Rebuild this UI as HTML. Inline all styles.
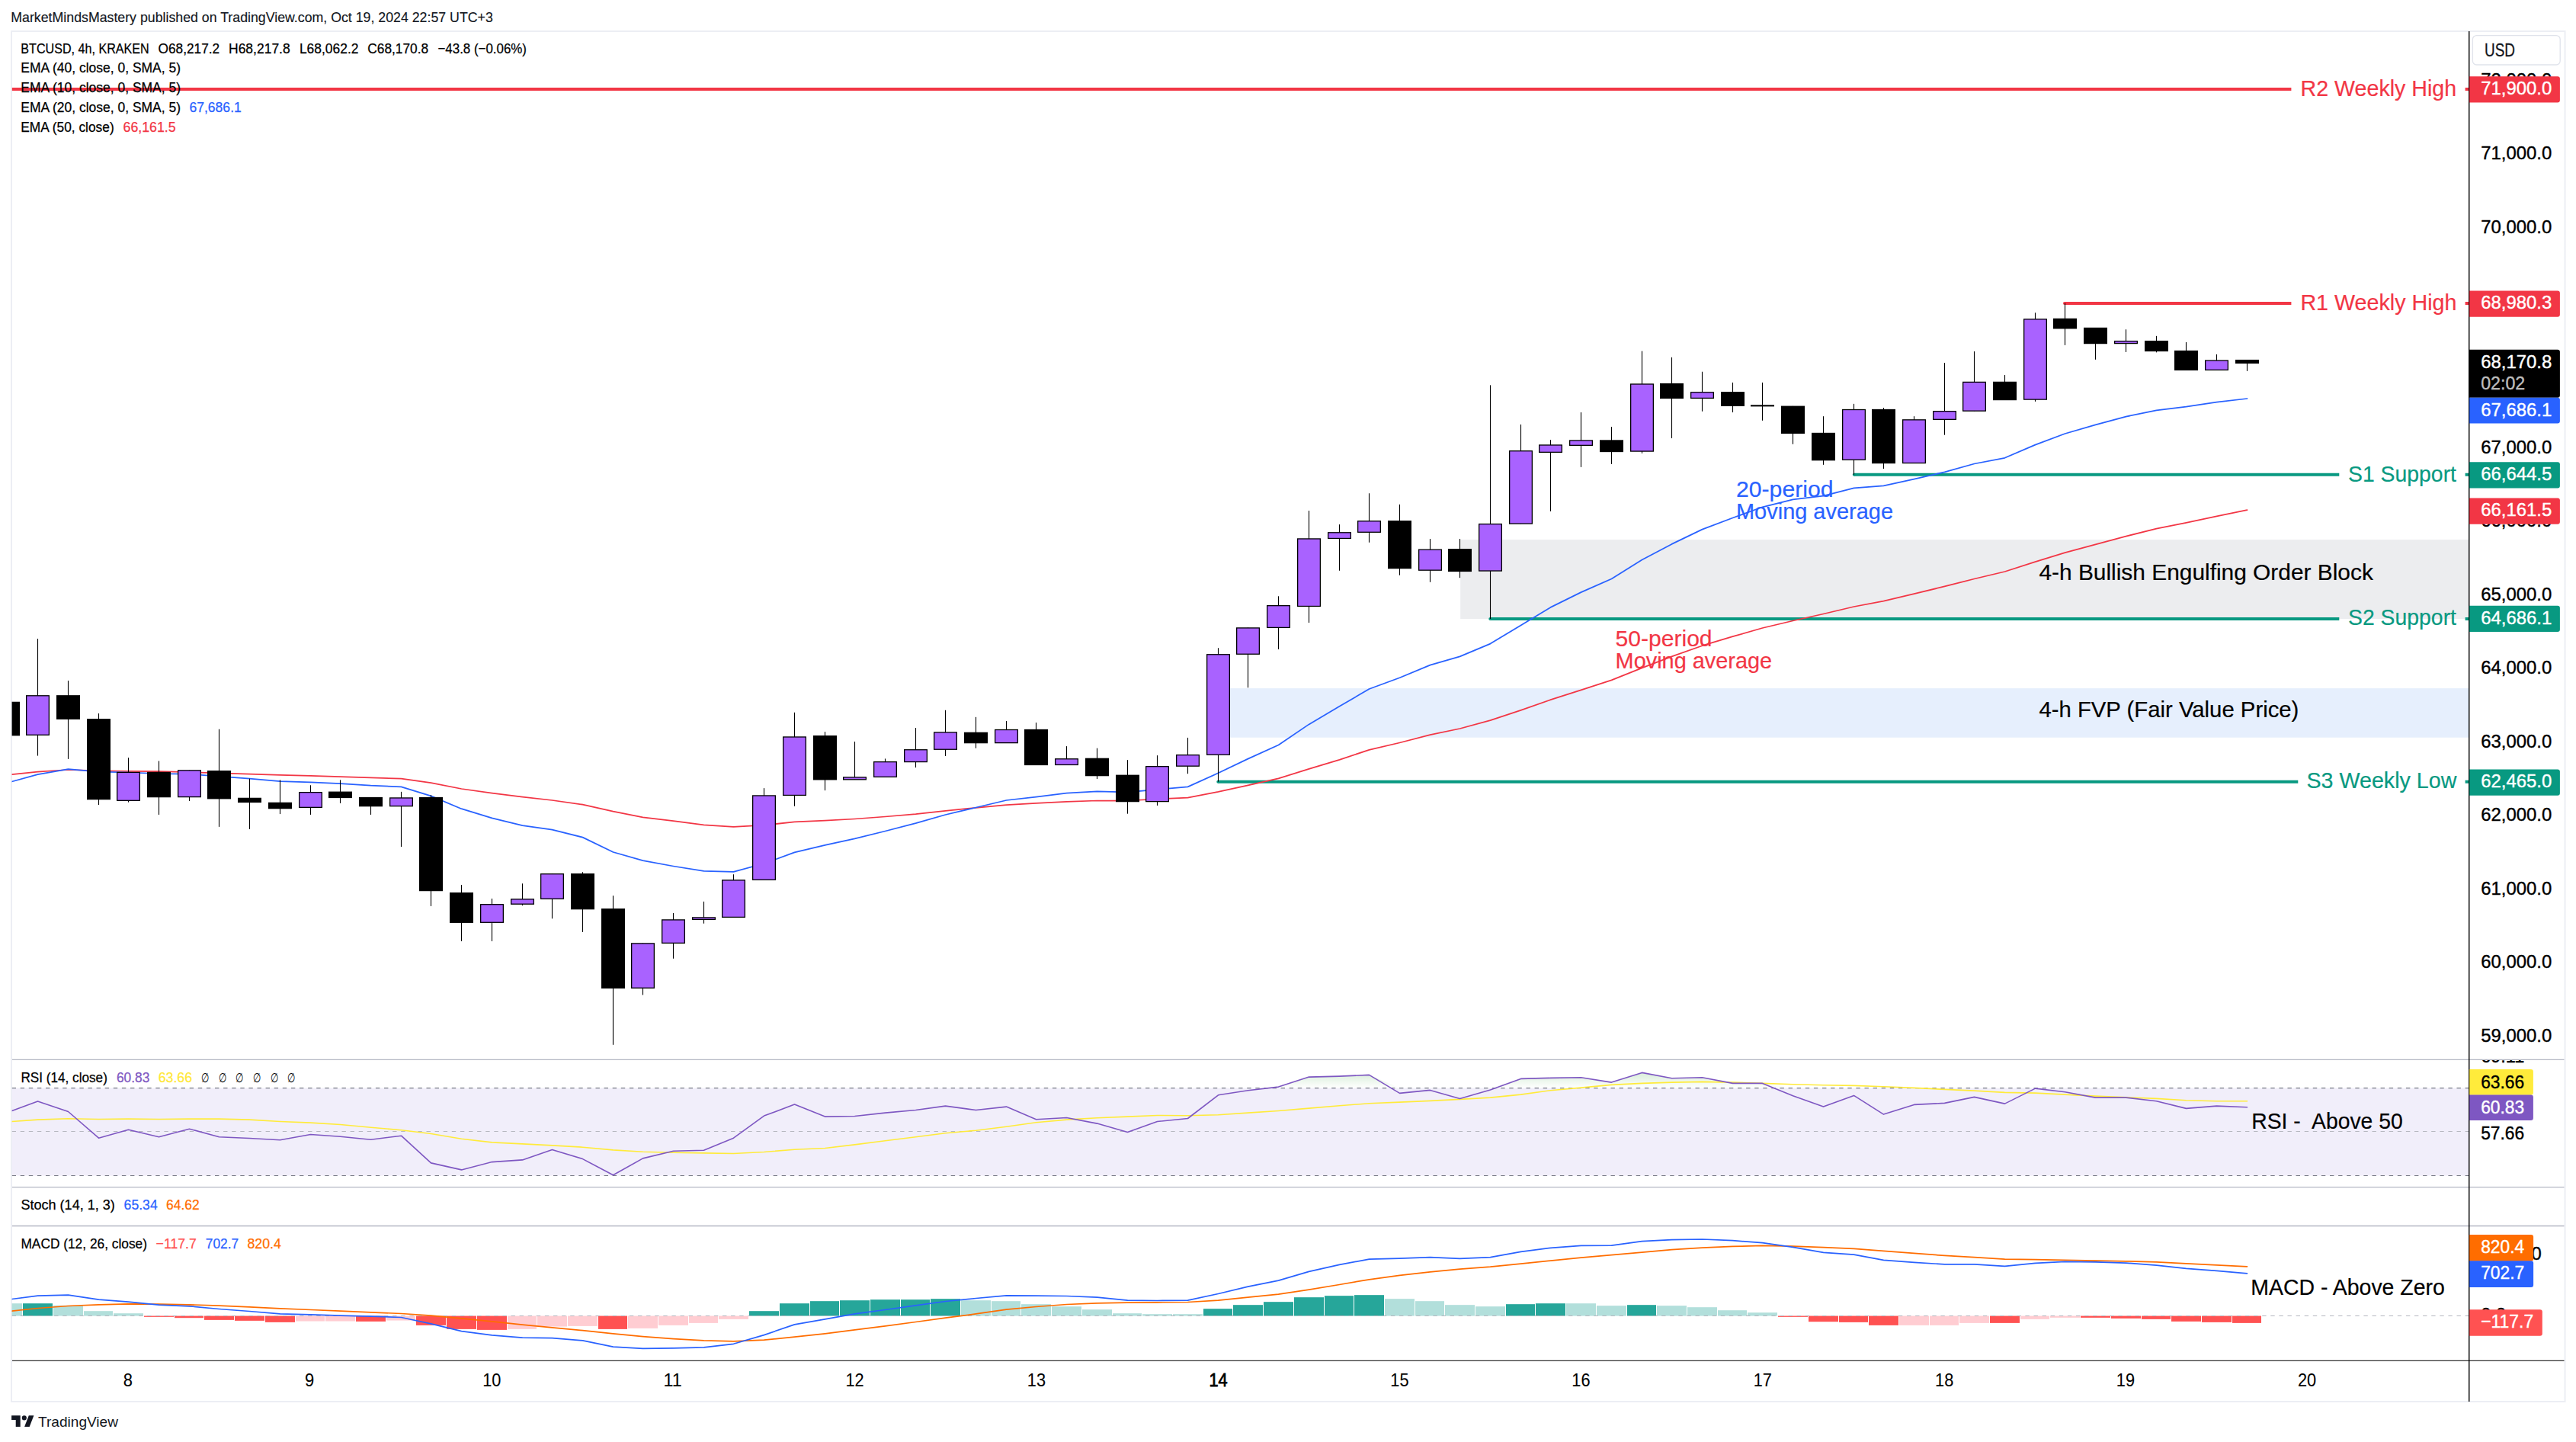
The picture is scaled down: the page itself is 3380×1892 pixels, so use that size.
<!DOCTYPE html>
<html><head><meta charset="utf-8"><title>BTCUSD chart</title>
<style>html,body{margin:0;padding:0;background:#fff}svg{display:block}</style></head>
<body>
<svg width="3380" height="1892" viewBox="0 0 3380 1892" font-family='"Liberation Sans", sans-serif'>
<defs>
<clipPath id="plot"><rect x="15.6" y="41.0" width="3224.1" height="1744.3"/></clipPath>
<clipPath id="rsiax"><rect x="3239.7" y="1391.0" width="130" height="200"/></clipPath>
<linearGradient id="gg" x1="0" y1="0" x2="0" y2="1"><stop offset="0" stop-color="#4caf50" stop-opacity="0.22"/><stop offset="1" stop-color="#4caf50" stop-opacity="0.0"/></linearGradient>
</defs>
<rect x="0.00" y="0.00" width="3380.00" height="1892.00" fill="#ffffff"/>
<text x="14.3" y="28.7" font-size="18.2" fill="#131722" textLength="632.5" lengthAdjust="spacingAndGlyphs" stroke="#131722" stroke-width="0.15">MarketMindsMastery published on TradingView.com, Oct 19, 2024 22:57 UTC+3</text>
<rect x="15.0" y="41.0" width="3350.5" height="1798.0" fill="#fff" stroke="#eceef4" stroke-width="2"/>
<g clip-path="url(#plot)">
<rect x="1916.20" y="708.10" width="1323.50" height="103.90" fill="#ecedef"/>
<rect x="1614.00" y="903.10" width="1625.70" height="64.60" fill="#e6effd"/>
<rect x="15.60" y="1427.60" width="3224.10" height="114.90" fill="#f1eefa"/>
<polygon points="15.6,1427.6 15.6,1427.6 49.5,1427.6 89.5,1427.6 129.5,1427.6 168.5,1427.6 208.5,1427.6 248.5,1427.6 287.5,1427.6 327.5,1427.6 367.5,1427.6 407.5,1427.6 446.5,1427.6 486.5,1427.6 526.5,1427.6 565.5,1427.6 605.5,1427.6 645.5,1427.6 685.5,1427.6 724.5,1427.6 764.5,1427.6 804.5,1427.6 843.5,1427.6 883.5,1427.6 923.5,1427.6 962.5,1427.6 1002.5,1427.6 1042.5,1427.6 1082.5,1427.6 1121.5,1427.6 1161.5,1427.6 1201.5,1427.6 1240.5,1427.6 1280.5,1427.6 1320.5,1427.6 1359.5,1427.6 1399.5,1427.6 1439.5,1427.6 1479.5,1427.6 1518.5,1427.6 1558.5,1427.6 1598.5,1427.6 1637.5,1427.6 1677.5,1426.1 1717.5,1413.1 1757.5,1412.1 1796.5,1410.4 1836.5,1427.6 1876.5,1427.6 1915.5,1427.6 1955.5,1427.6 1995.5,1415.4 2034.5,1414.4 2074.5,1413.7 2114.5,1420.1 2154.5,1407.4 2193.5,1414.7 2233.5,1413.7 2273.5,1421.4 2312.5,1421.4 2352.5,1427.6 2392.5,1427.6 2432.5,1427.6 2471.5,1427.6 2511.5,1427.6 2551.5,1427.6 2590.5,1427.6 2630.5,1427.6 2670.5,1427.6 2709.5,1427.6 2749.5,1427.6 2789.5,1427.6 2829.5,1427.6 2868.5,1427.6 2908.5,1427.6 2948.5,1427.6 2948.5,1427.6" fill="url(#gg)"/>
<line x1="15.60" y1="1427.60" x2="3239.70" y2="1427.60" stroke="#787b86" stroke-width="1.15" stroke-dasharray="5.4 5.7"/>
<line x1="15.60" y1="1484.50" x2="3239.70" y2="1484.50" stroke="#b5b7bf" stroke-width="1.15" stroke-dasharray="5.4 5.7"/>
<line x1="15.60" y1="1542.50" x2="3239.70" y2="1542.50" stroke="#787b86" stroke-width="1.15" stroke-dasharray="5.4 5.7"/>
<polyline points="15.6,1471.5 49.5,1469.1 89.5,1467.8 129.5,1468.5 168.5,1468.1 208.5,1468.5 248.5,1468.1 287.5,1468.1 327.5,1469.1 367.5,1471.5 407.5,1473.1 446.5,1475.5 486.5,1479.2 526.5,1482.8 565.5,1487.5 605.5,1494.2 645.5,1498.9 685.5,1500.9 724.5,1502.9 764.5,1505.2 804.5,1508.9 843.5,1511.2 883.5,1512.2 923.5,1512.9 962.5,1513.5 1002.5,1511.5 1042.5,1508.2 1082.5,1506.5 1121.5,1501.9 1161.5,1496.8 1201.5,1491.8 1240.5,1486.8 1280.5,1483.2 1320.5,1478.2 1359.5,1472.8 1399.5,1469.1 1439.5,1466.8 1479.5,1465.1 1518.5,1463.5 1558.5,1463.8 1598.5,1462.8 1637.5,1460.1 1677.5,1457.5 1717.5,1454.1 1757.5,1450.8 1796.5,1447.8 1836.5,1446.1 1876.5,1444.4 1915.5,1442.4 1955.5,1440.1 1995.5,1436.1 2034.5,1430.7 2074.5,1427.1 2114.5,1423.4 2154.5,1421.4 2193.5,1420.1 2233.5,1419.4 2273.5,1420.1 2312.5,1421.4 2352.5,1422.7 2392.5,1423.7 2432.5,1424.4 2471.5,1425.7 2511.5,1427.4 2551.5,1429.4 2590.5,1431.1 2630.5,1433.4 2670.5,1434.1 2709.5,1436.1 2749.5,1438.1 2789.5,1439.8 2829.5,1441.4 2868.5,1443.8 2908.5,1444.8 2948.5,1444.8" fill="none" stroke="#ffeb3b" stroke-width="1.6" stroke-linejoin="round" stroke-linecap="round"/>
<polyline points="15.6,1457.5 49.5,1445.1 89.5,1458.5 129.5,1493.2 168.5,1482.2 208.5,1491.8 248.5,1481.2 287.5,1491.8 327.5,1493.5 367.5,1495.8 407.5,1488.5 446.5,1491.2 486.5,1495.2 526.5,1490.2 565.5,1525.9 605.5,1534.9 645.5,1524.6 685.5,1521.9 724.5,1508.5 764.5,1520.6 804.5,1541.8 843.5,1519.9 883.5,1510.2 923.5,1509.2 962.5,1493.2 1002.5,1464.1 1042.5,1449.1 1082.5,1465.1 1121.5,1464.5 1161.5,1460.1 1201.5,1456.5 1240.5,1451.1 1280.5,1456.5 1320.5,1452.1 1359.5,1468.8 1399.5,1466.5 1439.5,1474.1 1479.5,1485.5 1518.5,1471.5 1558.5,1467.5 1598.5,1436.8 1637.5,1430.7 1677.5,1426.1 1717.5,1413.1 1757.5,1412.1 1796.5,1410.4 1836.5,1434.4 1876.5,1430.4 1915.5,1441.4 1955.5,1430.1 1995.5,1415.4 2034.5,1414.4 2074.5,1413.7 2114.5,1420.1 2154.5,1407.4 2193.5,1414.7 2233.5,1413.7 2273.5,1421.4 2312.5,1421.4 2352.5,1437.8 2392.5,1452.1 2432.5,1437.4 2471.5,1462.1 2511.5,1449.4 2551.5,1447.4 2590.5,1439.4 2630.5,1448.1 2670.5,1428.1 2709.5,1432.7 2749.5,1440.1 2789.5,1440.1 2829.5,1444.8 2868.5,1454.4 2908.5,1451.1 2948.5,1452.8" fill="none" stroke="#7e57c2" stroke-width="1.6" stroke-linejoin="round" stroke-linecap="round"/>
<rect x="-9.00" y="1710.17" width="38.00" height="16.36" fill="#b2dfdb"/>
<rect x="30.00" y="1710.17" width="39.00" height="16.36" fill="#26a69a"/>
<rect x="70.00" y="1712.84" width="39.00" height="13.69" fill="#b2dfdb"/>
<rect x="110.00" y="1720.19" width="38.00" height="6.34" fill="#b2dfdb"/>
<rect x="149.00" y="1723.19" width="39.00" height="3.34" fill="#b2dfdb"/>
<rect x="189.00" y="1726.53" width="39.00" height="1.34" fill="#ff5252"/>
<rect x="229.00" y="1726.53" width="38.00" height="2.67" fill="#ff5252"/>
<rect x="268.00" y="1726.53" width="39.00" height="5.34" fill="#ff5252"/>
<rect x="308.00" y="1726.53" width="39.00" height="6.34" fill="#ff5252"/>
<rect x="348.00" y="1726.53" width="39.00" height="8.35" fill="#ff5252"/>
<rect x="388.00" y="1726.53" width="38.00" height="7.01" fill="#ffcdd2"/>
<rect x="427.00" y="1726.53" width="39.00" height="7.01" fill="#ffcdd2"/>
<rect x="467.00" y="1726.53" width="39.00" height="7.34" fill="#ff5252"/>
<rect x="507.00" y="1726.53" width="38.00" height="6.01" fill="#ffcdd2"/>
<rect x="546.00" y="1726.53" width="39.00" height="12.35" fill="#ff5252"/>
<rect x="586.00" y="1726.53" width="39.00" height="17.36" fill="#ff5252"/>
<rect x="626.00" y="1726.53" width="39.00" height="18.36" fill="#ff5252"/>
<rect x="666.00" y="1726.53" width="38.00" height="17.36" fill="#ffcdd2"/>
<rect x="705.00" y="1726.53" width="39.00" height="14.02" fill="#ffcdd2"/>
<rect x="745.00" y="1726.53" width="39.00" height="13.35" fill="#ffcdd2"/>
<rect x="785.00" y="1726.53" width="38.00" height="17.36" fill="#ff5252"/>
<rect x="824.00" y="1726.53" width="39.00" height="16.36" fill="#ffcdd2"/>
<rect x="864.00" y="1726.53" width="39.00" height="12.35" fill="#ffcdd2"/>
<rect x="904.00" y="1726.53" width="38.00" height="9.35" fill="#ffcdd2"/>
<rect x="943.00" y="1726.53" width="39.00" height="4.34" fill="#ffcdd2"/>
<rect x="983.00" y="1720.19" width="39.00" height="6.34" fill="#26a69a"/>
<rect x="1023.00" y="1710.17" width="39.00" height="16.36" fill="#26a69a"/>
<rect x="1063.00" y="1707.17" width="38.00" height="19.36" fill="#26a69a"/>
<rect x="1102.00" y="1706.17" width="39.00" height="20.37" fill="#26a69a"/>
<rect x="1142.00" y="1705.16" width="39.00" height="21.37" fill="#26a69a"/>
<rect x="1182.00" y="1705.16" width="38.00" height="21.37" fill="#26a69a"/>
<rect x="1221.00" y="1704.16" width="39.00" height="22.37" fill="#26a69a"/>
<rect x="1261.00" y="1706.17" width="39.00" height="20.37" fill="#b2dfdb"/>
<rect x="1301.00" y="1707.17" width="38.00" height="19.36" fill="#b2dfdb"/>
<rect x="1340.00" y="1711.17" width="39.00" height="15.36" fill="#b2dfdb"/>
<rect x="1380.00" y="1714.18" width="39.00" height="12.35" fill="#b2dfdb"/>
<rect x="1420.00" y="1718.19" width="39.00" height="8.35" fill="#b2dfdb"/>
<rect x="1460.00" y="1723.19" width="38.00" height="3.34" fill="#b2dfdb"/>
<rect x="1499.00" y="1724.19" width="39.00" height="2.34" fill="#b2dfdb"/>
<rect x="1539.00" y="1724.19" width="39.00" height="2.34" fill="#b2dfdb"/>
<rect x="1579.00" y="1717.18" width="38.00" height="9.35" fill="#26a69a"/>
<rect x="1618.00" y="1712.18" width="39.00" height="14.36" fill="#26a69a"/>
<rect x="1658.00" y="1708.17" width="39.00" height="18.36" fill="#26a69a"/>
<rect x="1698.00" y="1702.16" width="39.00" height="24.37" fill="#26a69a"/>
<rect x="1738.00" y="1700.16" width="38.00" height="26.37" fill="#26a69a"/>
<rect x="1777.00" y="1699.16" width="39.00" height="27.38" fill="#26a69a"/>
<rect x="1817.00" y="1704.16" width="39.00" height="22.37" fill="#b2dfdb"/>
<rect x="1857.00" y="1707.17" width="38.00" height="19.36" fill="#b2dfdb"/>
<rect x="1896.00" y="1712.18" width="39.00" height="14.36" fill="#b2dfdb"/>
<rect x="1936.00" y="1714.18" width="39.00" height="12.35" fill="#b2dfdb"/>
<rect x="1976.00" y="1711.17" width="38.00" height="15.36" fill="#26a69a"/>
<rect x="2015.00" y="1710.17" width="39.00" height="16.36" fill="#26a69a"/>
<rect x="2055.00" y="1710.17" width="39.00" height="16.36" fill="#b2dfdb"/>
<rect x="2095.00" y="1713.18" width="39.00" height="13.35" fill="#b2dfdb"/>
<rect x="2135.00" y="1712.18" width="38.00" height="14.36" fill="#26a69a"/>
<rect x="2174.00" y="1713.18" width="39.00" height="13.35" fill="#b2dfdb"/>
<rect x="2214.00" y="1715.18" width="39.00" height="11.35" fill="#b2dfdb"/>
<rect x="2254.00" y="1719.19" width="38.00" height="7.34" fill="#b2dfdb"/>
<rect x="2293.00" y="1722.19" width="39.00" height="4.34" fill="#b2dfdb"/>
<rect x="2333.00" y="1726.53" width="39.00" height="1.34" fill="#ff5252"/>
<rect x="2373.00" y="1726.53" width="39.00" height="7.68" fill="#ff5252"/>
<rect x="2413.00" y="1726.53" width="38.00" height="8.35" fill="#ff5252"/>
<rect x="2452.00" y="1726.53" width="39.00" height="12.35" fill="#ff5252"/>
<rect x="2492.00" y="1726.53" width="39.00" height="12.35" fill="#ffcdd2"/>
<rect x="2532.00" y="1726.53" width="38.00" height="12.35" fill="#ffcdd2"/>
<rect x="2571.00" y="1726.53" width="39.00" height="9.35" fill="#ffcdd2"/>
<rect x="2611.00" y="1726.53" width="39.00" height="9.35" fill="#ff5252"/>
<rect x="2651.00" y="1726.53" width="38.00" height="4.34" fill="#ffcdd2"/>
<rect x="2690.00" y="1726.53" width="39.00" height="2.34" fill="#ffcdd2"/>
<rect x="2730.00" y="1726.53" width="39.00" height="2.34" fill="#ff5252"/>
<rect x="2770.00" y="1726.53" width="39.00" height="3.34" fill="#ff5252"/>
<rect x="2810.00" y="1726.53" width="38.00" height="4.34" fill="#ff5252"/>
<rect x="2849.00" y="1726.53" width="39.00" height="7.34" fill="#ff5252"/>
<rect x="2889.00" y="1726.53" width="39.00" height="8.35" fill="#ff5252"/>
<rect x="2929.00" y="1726.53" width="38.00" height="9.35" fill="#ff5252"/>
<line x1="15.60" y1="1726.53" x2="3239.70" y2="1726.53" stroke="#b5b7bf" stroke-width="1.15" stroke-dasharray="5.4 5.7"/>
<polyline points="15.6,1720.2 49.5,1716.5 89.5,1713.5 129.5,1711.8 168.5,1710.8 208.5,1711.2 248.5,1711.8 287.5,1713.2 327.5,1714.8 367.5,1716.8 407.5,1718.5 446.5,1720.2 486.5,1721.9 526.5,1723.5 565.5,1726.2 605.5,1729.9 645.5,1733.9 685.5,1738.2 724.5,1741.9 764.5,1745.6 804.5,1749.9 843.5,1753.6 883.5,1756.6 923.5,1758.9 962.5,1759.9 1002.5,1758.2 1042.5,1754.2 1082.5,1749.9 1121.5,1744.9 1161.5,1739.9 1201.5,1734.5 1240.5,1729.2 1280.5,1723.9 1320.5,1718.2 1359.5,1714.5 1399.5,1711.5 1439.5,1709.8 1479.5,1709.2 1518.5,1708.8 1558.5,1708.5 1598.5,1706.2 1637.5,1702.2 1677.5,1698.2 1717.5,1692.1 1757.5,1685.5 1796.5,1678.8 1836.5,1673.4 1876.5,1668.8 1915.5,1665.1 1955.5,1662.1 1995.5,1658.1 2034.5,1654.1 2074.5,1650.1 2114.5,1646.7 2154.5,1643.1 2193.5,1639.7 2233.5,1637.1 2273.5,1635.4 2312.5,1634.4 2352.5,1635.1 2392.5,1636.7 2432.5,1638.4 2471.5,1641.4 2511.5,1644.4 2551.5,1647.4 2590.5,1649.7 2630.5,1652.1 2670.5,1652.7 2709.5,1653.4 2749.5,1654.1 2789.5,1654.8 2829.5,1655.8 2868.5,1657.8 2908.5,1659.8 2948.5,1661.8" fill="none" stroke="#ff6d00" stroke-width="1.7" stroke-linejoin="round" stroke-linecap="round"/>
<polyline points="15.6,1704.5 49.5,1700.2 89.5,1699.2 129.5,1705.2 168.5,1708.2 208.5,1712.2 248.5,1713.8 287.5,1717.5 327.5,1720.5 367.5,1723.9 407.5,1724.9 446.5,1726.2 486.5,1727.2 526.5,1728.5 565.5,1736.9 605.5,1746.6 645.5,1751.9 685.5,1755.2 724.5,1755.6 764.5,1758.9 804.5,1767.1 843.5,1769.4 883.5,1768.9 923.5,1767.9 962.5,1763.3 1002.5,1751.6 1042.5,1737.9 1082.5,1730.9 1121.5,1723.9 1161.5,1718.5 1201.5,1712.8 1240.5,1707.5 1280.5,1703.5 1320.5,1699.8 1359.5,1700.2 1399.5,1700.5 1439.5,1702.2 1479.5,1706.2 1518.5,1706.5 1558.5,1706.2 1598.5,1697.5 1637.5,1688.1 1677.5,1680.1 1717.5,1668.4 1757.5,1659.4 1796.5,1652.1 1836.5,1651.1 1876.5,1649.7 1915.5,1651.4 1955.5,1649.7 1995.5,1642.4 2034.5,1637.4 2074.5,1634.4 2114.5,1634.1 2154.5,1628.7 2193.5,1626.7 2233.5,1626.0 2273.5,1627.7 2312.5,1630.7 2352.5,1636.4 2392.5,1643.4 2432.5,1646.1 2471.5,1653.4 2511.5,1656.4 2551.5,1658.8 2590.5,1658.8 2630.5,1661.4 2670.5,1657.4 2709.5,1655.4 2749.5,1655.8 2789.5,1657.1 2829.5,1660.1 2868.5,1664.4 2908.5,1667.4 2948.5,1670.8" fill="none" stroke="#2962ff" stroke-width="1.7" stroke-linejoin="round" stroke-linecap="round"/>
<line x1="15.60" y1="117.00" x2="3006.40" y2="117.00" stroke="#f23645" stroke-width="4.1"/>
<line x1="3234.60" y1="117.00" x2="3239.70" y2="117.00" stroke="#f23645" stroke-width="4.1"/>
<circle cx="2709.05" cy="398" r="2.05" fill="#f23645"/>
<line x1="2709.05" y1="398.00" x2="3006.40" y2="398.00" stroke="#f23645" stroke-width="4.1"/>
<line x1="3234.60" y1="398.00" x2="3239.70" y2="398.00" stroke="#f23645" stroke-width="4.1"/>
<circle cx="2432.85" cy="622.7" r="2.05" fill="#089981"/>
<line x1="2432.85" y1="622.70" x2="3069.30" y2="622.70" stroke="#089981" stroke-width="4.1"/>
<line x1="3234.60" y1="622.70" x2="3239.70" y2="622.70" stroke="#089981" stroke-width="4.1"/>
<circle cx="1955.35" cy="812" r="2.05" fill="#089981"/>
<line x1="1955.35" y1="812.00" x2="3069.30" y2="812.00" stroke="#089981" stroke-width="4.1"/>
<line x1="3234.60" y1="812.00" x2="3239.70" y2="812.00" stroke="#089981" stroke-width="4.1"/>
<circle cx="1598.35" cy="1025.8" r="2.05" fill="#089981"/>
<line x1="1598.35" y1="1025.80" x2="3015.30" y2="1025.80" stroke="#089981" stroke-width="4.1"/>
<line x1="3234.60" y1="1025.80" x2="3239.70" y2="1025.80" stroke="#089981" stroke-width="4.1"/>
<polyline points="15.6,1016.1 49.5,1012.6 89.5,1010.0 129.5,1011.3 168.5,1011.8 208.5,1012.2 248.5,1013.1 287.5,1014.3 327.5,1015.6 367.5,1016.9 407.5,1017.8 446.5,1019.1 486.5,1020.4 526.5,1021.7 565.5,1027.2 605.5,1035.0 645.5,1040.6 685.5,1045.7 724.5,1050.0 764.5,1055.6 804.5,1064.7 843.5,1072.4 883.5,1077.1 923.5,1082.3 962.5,1084.9 1002.5,1082.7 1042.5,1078.4 1082.5,1076.7 1121.5,1074.5 1161.5,1071.5 1201.5,1068.1 1240.5,1063.8 1280.5,1059.9 1320.5,1056.1 1359.5,1053.9 1399.5,1051.8 1439.5,1050.5 1479.5,1050.5 1518.5,1048.3 1558.5,1046.6 1598.5,1038.9 1637.5,1030.4 1677.5,1021.4 1717.5,1008.9 1757.5,996.8 1796.5,983.9 1836.5,974.5 1876.5,964.2 1915.5,956.0 1955.5,945.2 1995.5,931.9 2034.5,918.2 2074.5,905.3 2114.5,892.4 2154.5,876.4 2193.5,861.4 2233.5,847.2 2273.5,835.2 2312.5,824.0 2352.5,814.5 2392.5,805.5 2432.5,796.0 2471.5,788.7 2511.5,779.2 2551.5,769.4 2590.5,759.5 2630.5,750.0 2670.5,737.1 2709.5,725.1 2749.5,714.3 2789.5,703.6 2829.5,693.7 2868.5,685.9 2908.5,677.3 2948.5,669.2" fill="none" stroke="#f23645" stroke-width="1.75" stroke-linejoin="round" stroke-linecap="round"/>
<polyline points="15.6,1025.5 49.5,1016.1 89.5,1009.2 129.5,1012.6 168.5,1013.5 208.5,1015.2 248.5,1015.6 287.5,1018.6 327.5,1021.7 367.5,1025.1 407.5,1026.4 446.5,1028.1 486.5,1030.7 526.5,1032.4 565.5,1044.4 605.5,1061.2 645.5,1073.3 685.5,1083.1 724.5,1088.7 764.5,1098.6 804.5,1118.0 843.5,1129.2 883.5,1136.5 923.5,1142.9 962.5,1143.8 1002.5,1133.0 1042.5,1118.4 1082.5,1108.9 1121.5,1100.3 1161.5,1090.5 1201.5,1080.1 1240.5,1069.0 1280.5,1059.5 1320.5,1050.0 1359.5,1045.7 1399.5,1040.6 1439.5,1038.4 1479.5,1039.3 1518.5,1035.8 1558.5,1032.4 1598.5,1014.3 1637.5,995.6 1677.5,977.5 1717.5,950.4 1757.5,926.8 1796.5,904.0 1836.5,889.3 1876.5,872.6 1915.5,861.4 1955.5,844.6 1995.5,820.5 2034.5,796.9 2074.5,777.1 2114.5,759.5 2154.5,734.5 2193.5,713.9 2233.5,694.6 2273.5,679.5 2312.5,665.3 2352.5,655.4 2392.5,650.7 2432.5,640.4 2471.5,637.3 2511.5,628.7 2551.5,619.3 2590.5,608.5 2630.5,600.8 2670.5,583.6 2709.5,569.0 2749.5,557.4 2789.5,546.6 2829.5,538.4 2868.5,533.7 2908.5,527.7 2948.5,523.0" fill="none" stroke="#2962ff" stroke-width="1.75" stroke-linejoin="round" stroke-linecap="round"/>
<rect x="9.95" y="921.04" width="1.10" height="43.86" fill="#000000"/>
<rect x="-5.00" y="920.74" width="31.00" height="44.66" fill="#000000"/>
<rect x="48.95" y="838.05" width="1.10" height="153.51" fill="#000000"/>
<rect x="34.65" y="912.79" width="29.7" height="51.53" fill="#a962ff" stroke="#000" stroke-width="1.3"/>
<rect x="88.95" y="893.09" width="1.10" height="102.77" fill="#000000"/>
<rect x="74.00" y="912.14" width="31.00" height="31.76" fill="#000000"/>
<rect x="128.95" y="936.09" width="1.10" height="119.97" fill="#000000"/>
<rect x="114.00" y="943.10" width="31.00" height="106.15" fill="#000000"/>
<rect x="167.95" y="994.14" width="1.10" height="58.48" fill="#000000"/>
<rect x="153.65" y="1013.41" width="29.7" height="36.91" fill="#a962ff" stroke="#000" stroke-width="1.3"/>
<rect x="207.95" y="998.44" width="1.10" height="70.52" fill="#000000"/>
<rect x="193.00" y="1012.76" width="31.00" height="33.48" fill="#000000"/>
<rect x="247.95" y="1010.48" width="1.10" height="40.42" fill="#000000"/>
<rect x="233.65" y="1010.83" width="29.7" height="34.76" fill="#a962ff" stroke="#000" stroke-width="1.3"/>
<rect x="286.95" y="956.73" width="1.10" height="128.14" fill="#000000"/>
<rect x="272.00" y="1011.04" width="31.00" height="37.35" fill="#000000"/>
<rect x="326.95" y="1021.66" width="1.10" height="66.22" fill="#000000"/>
<rect x="312.00" y="1046.73" width="31.00" height="6.39" fill="#000000"/>
<rect x="366.95" y="1023.38" width="1.10" height="44.72" fill="#000000"/>
<rect x="352.00" y="1052.75" width="31.00" height="8.54" fill="#000000"/>
<rect x="406.95" y="1030.26" width="1.10" height="38.70" fill="#000000"/>
<rect x="392.65" y="1039.64" width="29.7" height="19.71" fill="#a962ff" stroke="#000" stroke-width="1.3"/>
<rect x="445.95" y="1023.38" width="1.10" height="30.53" fill="#000000"/>
<rect x="431.00" y="1038.56" width="31.00" height="8.54" fill="#000000"/>
<rect x="485.95" y="1046.17" width="1.10" height="22.79" fill="#000000"/>
<rect x="471.00" y="1045.87" width="31.00" height="12.41" fill="#000000"/>
<rect x="525.95" y="1038.86" width="1.10" height="72.24" fill="#000000"/>
<rect x="511.65" y="1046.95" width="29.7" height="10.68" fill="#a962ff" stroke="#000" stroke-width="1.3"/>
<rect x="564.95" y="1043.16" width="1.10" height="145.77" fill="#000000"/>
<rect x="550.00" y="1045.87" width="31.00" height="123.35" fill="#000000"/>
<rect x="604.95" y="1160.98" width="1.10" height="73.96" fill="#000000"/>
<rect x="590.00" y="1171.00" width="31.00" height="39.93" fill="#000000"/>
<rect x="644.95" y="1179.04" width="1.10" height="55.90" fill="#000000"/>
<rect x="630.65" y="1186.70" width="29.7" height="23.58" fill="#a962ff" stroke="#000" stroke-width="1.3"/>
<rect x="684.95" y="1159.26" width="1.10" height="28.81" fill="#000000"/>
<rect x="670.65" y="1179.82" width="29.7" height="6.38" fill="#a962ff" stroke="#000" stroke-width="1.3"/>
<rect x="723.95" y="1146.36" width="1.10" height="58.91" fill="#000000"/>
<rect x="709.65" y="1146.71" width="29.7" height="32.61" fill="#a962ff" stroke="#000" stroke-width="1.3"/>
<rect x="763.95" y="1144.21" width="1.10" height="78.69" fill="#000000"/>
<rect x="749.00" y="1146.06" width="31.00" height="47.24" fill="#000000"/>
<rect x="803.95" y="1175.17" width="1.10" height="195.65" fill="#000000"/>
<rect x="789.00" y="1192.07" width="31.00" height="104.86" fill="#000000"/>
<rect x="842.95" y="1237.52" width="1.10" height="67.94" fill="#000000"/>
<rect x="828.65" y="1237.87" width="29.7" height="58.41" fill="#a962ff" stroke="#000" stroke-width="1.3"/>
<rect x="882.95" y="1197.96" width="1.10" height="59.77" fill="#000000"/>
<rect x="868.65" y="1206.91" width="29.7" height="30.46" fill="#a962ff" stroke="#000" stroke-width="1.3"/>
<rect x="922.95" y="1182.91" width="1.10" height="28.81" fill="#000000"/>
<rect x="908.65" y="1203.90" width="29.7" height="2.51" fill="#a962ff" stroke="#000" stroke-width="1.3"/>
<rect x="961.95" y="1147.22" width="1.10" height="56.33" fill="#000000"/>
<rect x="947.65" y="1154.88" width="29.7" height="48.52" fill="#a962ff" stroke="#000" stroke-width="1.3"/>
<rect x="1001.95" y="1034.13" width="1.10" height="120.40" fill="#000000"/>
<rect x="987.65" y="1043.94" width="29.7" height="110.44" fill="#a962ff" stroke="#000" stroke-width="1.3"/>
<rect x="1041.95" y="934.80" width="1.10" height="122.98" fill="#000000"/>
<rect x="1027.65" y="966.97" width="29.7" height="76.47" fill="#a962ff" stroke="#000" stroke-width="1.3"/>
<rect x="1081.95" y="960.17" width="1.10" height="76.97" fill="#000000"/>
<rect x="1067.00" y="965.03" width="31.00" height="58.42" fill="#000000"/>
<rect x="1120.95" y="973.07" width="1.10" height="49.88" fill="#000000"/>
<rect x="1106.65" y="1019.86" width="29.7" height="2.94" fill="#a962ff" stroke="#000" stroke-width="1.3"/>
<rect x="1160.95" y="995.43" width="1.10" height="24.08" fill="#000000"/>
<rect x="1146.65" y="999.65" width="29.7" height="19.71" fill="#a962ff" stroke="#000" stroke-width="1.3"/>
<rect x="1200.95" y="955.01" width="1.10" height="52.03" fill="#000000"/>
<rect x="1186.65" y="983.74" width="29.7" height="15.84" fill="#a962ff" stroke="#000" stroke-width="1.3"/>
<rect x="1239.95" y="931.79" width="1.10" height="60.20" fill="#000000"/>
<rect x="1225.65" y="960.95" width="29.7" height="22.29" fill="#a962ff" stroke="#000" stroke-width="1.3"/>
<rect x="1279.95" y="940.82" width="1.10" height="40.85" fill="#000000"/>
<rect x="1265.00" y="960.73" width="31.00" height="14.56" fill="#000000"/>
<rect x="1319.95" y="945.98" width="1.10" height="28.81" fill="#000000"/>
<rect x="1305.65" y="957.51" width="29.7" height="17.13" fill="#a962ff" stroke="#000" stroke-width="1.3"/>
<rect x="1358.95" y="948.13" width="1.10" height="55.47" fill="#000000"/>
<rect x="1344.00" y="956.86" width="31.00" height="47.24" fill="#000000"/>
<rect x="1398.95" y="979.09" width="1.10" height="24.51" fill="#000000"/>
<rect x="1384.65" y="995.78" width="29.7" height="7.67" fill="#a962ff" stroke="#000" stroke-width="1.3"/>
<rect x="1438.95" y="981.67" width="1.10" height="40.42" fill="#000000"/>
<rect x="1424.00" y="994.70" width="31.00" height="23.59" fill="#000000"/>
<rect x="1478.95" y="997.15" width="1.10" height="70.52" fill="#000000"/>
<rect x="1464.00" y="1016.63" width="31.00" height="35.63" fill="#000000"/>
<rect x="1517.95" y="991.13" width="1.10" height="65.79" fill="#000000"/>
<rect x="1503.65" y="1005.67" width="29.7" height="45.94" fill="#a962ff" stroke="#000" stroke-width="1.3"/>
<rect x="1557.95" y="967.91" width="1.10" height="47.30" fill="#000000"/>
<rect x="1543.65" y="990.62" width="29.7" height="14.55" fill="#a962ff" stroke="#000" stroke-width="1.3"/>
<rect x="1597.95" y="850.22" width="1.10" height="175.44" fill="#000000"/>
<rect x="1583.65" y="858.74" width="29.7" height="131.51" fill="#a962ff" stroke="#000" stroke-width="1.3"/>
<rect x="1636.95" y="823.56" width="1.10" height="78.69" fill="#000000"/>
<rect x="1622.65" y="823.91" width="29.7" height="34.33" fill="#a962ff" stroke="#000" stroke-width="1.3"/>
<rect x="1676.95" y="782.28" width="1.10" height="69.66" fill="#000000"/>
<rect x="1662.65" y="794.67" width="29.7" height="28.74" fill="#a962ff" stroke="#000" stroke-width="1.3"/>
<rect x="1716.95" y="670.05" width="1.10" height="147.06" fill="#000000"/>
<rect x="1702.65" y="706.95" width="29.7" height="88.51" fill="#a962ff" stroke="#000" stroke-width="1.3"/>
<rect x="1756.95" y="688.11" width="1.10" height="60.63" fill="#000000"/>
<rect x="1742.65" y="698.78" width="29.7" height="7.67" fill="#a962ff" stroke="#000" stroke-width="1.3"/>
<rect x="1795.95" y="647.26" width="1.10" height="64.50" fill="#000000"/>
<rect x="1781.65" y="683.73" width="29.7" height="14.55" fill="#a962ff" stroke="#000" stroke-width="1.3"/>
<rect x="1835.95" y="661.88" width="1.10" height="92.88" fill="#000000"/>
<rect x="1821.00" y="683.08" width="31.00" height="63.15" fill="#000000"/>
<rect x="1875.95" y="707.03" width="1.10" height="56.76" fill="#000000"/>
<rect x="1861.65" y="721.14" width="29.7" height="27.02" fill="#a962ff" stroke="#000" stroke-width="1.3"/>
<rect x="1914.95" y="707.03" width="1.10" height="51.17" fill="#000000"/>
<rect x="1900.00" y="720.06" width="31.00" height="30.04" fill="#000000"/>
<rect x="1954.95" y="505.36" width="1.10" height="306.59" fill="#000000"/>
<rect x="1940.65" y="687.60" width="29.7" height="61.42" fill="#a962ff" stroke="#000" stroke-width="1.3"/>
<rect x="1994.95" y="556.96" width="1.10" height="130.29" fill="#000000"/>
<rect x="1980.65" y="591.71" width="29.7" height="95.39" fill="#a962ff" stroke="#000" stroke-width="1.3"/>
<rect x="2033.95" y="577.17" width="1.10" height="93.74" fill="#000000"/>
<rect x="2019.65" y="583.97" width="29.7" height="9.39" fill="#a962ff" stroke="#000" stroke-width="1.3"/>
<rect x="2073.95" y="541.05" width="1.10" height="71.81" fill="#000000"/>
<rect x="2059.65" y="577.95" width="29.7" height="6.38" fill="#a962ff" stroke="#000" stroke-width="1.3"/>
<rect x="2113.95" y="559.97" width="1.10" height="49.02" fill="#000000"/>
<rect x="2099.00" y="577.30" width="31.00" height="15.85" fill="#000000"/>
<rect x="2153.95" y="460.64" width="1.10" height="134.16" fill="#000000"/>
<rect x="2139.65" y="503.99" width="29.7" height="88.08" fill="#a962ff" stroke="#000" stroke-width="1.3"/>
<rect x="2192.95" y="468.81" width="1.10" height="106.21" fill="#000000"/>
<rect x="2178.00" y="502.91" width="31.00" height="20.15" fill="#000000"/>
<rect x="2232.95" y="487.73" width="1.10" height="52.03" fill="#000000"/>
<rect x="2218.65" y="514.74" width="29.7" height="7.67" fill="#a962ff" stroke="#000" stroke-width="1.3"/>
<rect x="2272.95" y="501.92" width="1.10" height="39.13" fill="#000000"/>
<rect x="2258.00" y="514.09" width="31.00" height="18.86" fill="#000000"/>
<rect x="2311.95" y="501.92" width="1.10" height="49.88" fill="#000000"/>
<rect x="2297.00" y="531.29" width="31.00" height="2.09" fill="#000000"/>
<rect x="2351.95" y="532.88" width="1.10" height="49.88" fill="#000000"/>
<rect x="2337.00" y="532.58" width="31.00" height="36.49" fill="#000000"/>
<rect x="2391.95" y="546.19" width="1.10" height="63.64" fill="#000000"/>
<rect x="2377.00" y="567.82" width="31.00" height="36.49" fill="#000000"/>
<rect x="2431.95" y="529.85" width="1.10" height="92.88" fill="#000000"/>
<rect x="2417.65" y="537.51" width="29.7" height="65.72" fill="#a962ff" stroke="#000" stroke-width="1.3"/>
<rect x="2470.95" y="535.01" width="1.10" height="79.98" fill="#000000"/>
<rect x="2456.00" y="536.86" width="31.00" height="71.32" fill="#000000"/>
<rect x="2510.95" y="546.19" width="1.10" height="61.49" fill="#000000"/>
<rect x="2496.65" y="550.84" width="29.7" height="56.69" fill="#a962ff" stroke="#000" stroke-width="1.3"/>
<rect x="2550.95" y="476.10" width="1.10" height="94.60" fill="#000000"/>
<rect x="2536.65" y="539.66" width="29.7" height="10.68" fill="#a962ff" stroke="#000" stroke-width="1.3"/>
<rect x="2589.95" y="461.05" width="1.10" height="78.26" fill="#000000"/>
<rect x="2575.65" y="501.39" width="29.7" height="37.77" fill="#a962ff" stroke="#000" stroke-width="1.3"/>
<rect x="2629.95" y="492.01" width="1.10" height="32.68" fill="#000000"/>
<rect x="2615.00" y="500.74" width="31.00" height="24.45" fill="#000000"/>
<rect x="2669.95" y="410.31" width="1.10" height="116.53" fill="#000000"/>
<rect x="2655.65" y="418.83" width="29.7" height="105.28" fill="#a962ff" stroke="#000" stroke-width="1.3"/>
<rect x="2708.95" y="397.84" width="1.10" height="55.04" fill="#000000"/>
<rect x="2694.00" y="417.75" width="31.00" height="13.70" fill="#000000"/>
<rect x="2748.95" y="430.09" width="1.10" height="41.71" fill="#000000"/>
<rect x="2734.00" y="429.79" width="31.00" height="21.44" fill="#000000"/>
<rect x="2788.95" y="432.24" width="1.10" height="29.67" fill="#000000"/>
<rect x="2774.65" y="447.64" width="29.7" height="2.94" fill="#a962ff" stroke="#000" stroke-width="1.3"/>
<rect x="2828.95" y="440.84" width="1.10" height="21.50" fill="#000000"/>
<rect x="2814.00" y="446.99" width="31.00" height="14.13" fill="#000000"/>
<rect x="2867.95" y="449.01" width="1.10" height="36.55" fill="#000000"/>
<rect x="2853.00" y="459.89" width="31.00" height="26.17" fill="#000000"/>
<rect x="2907.95" y="464.92" width="1.10" height="20.64" fill="#000000"/>
<rect x="2893.65" y="473.01" width="29.7" height="12.40" fill="#a962ff" stroke="#000" stroke-width="1.3"/>
<rect x="2947.95" y="472.23" width="1.10" height="14.62" fill="#000000"/>
<rect x="2933.00" y="471.93" width="31.00" height="5.10" fill="#000000"/>
</g>
<text x="3018.6" y="126.3" font-size="29.8" fill="#f23645" textLength="204.5" lengthAdjust="spacingAndGlyphs" stroke="#f23645" stroke-width="0.2">R2 Weekly High</text>
<text x="3018.4" y="406.6" font-size="29.8" fill="#f23645" textLength="205.0" lengthAdjust="spacingAndGlyphs" stroke="#f23645" stroke-width="0.2">R1 Weekly High</text>
<text x="3081.0" y="632.1" font-size="29.8" fill="#089981" textLength="142.0" lengthAdjust="spacingAndGlyphs" stroke="#089981" stroke-width="0.2">S1 Support</text>
<text x="3081.0" y="820.3" font-size="29.8" fill="#089981" textLength="142.0" lengthAdjust="spacingAndGlyphs" stroke="#089981" stroke-width="0.2">S2 Support</text>
<text x="3026.4" y="1034.4" font-size="29.8" fill="#089981" textLength="197.0" lengthAdjust="spacingAndGlyphs" stroke="#089981" stroke-width="0.2">S3 Weekly Low</text>
<text x="2675.4" y="760.8" font-size="29.8" fill="#000" textLength="438.5" lengthAdjust="spacingAndGlyphs" stroke="#000" stroke-width="0.2">4-h Bullish Engulfing Order Block</text>
<text x="2675.4" y="940.5" font-size="29.8" fill="#000" textLength="341.0" lengthAdjust="spacingAndGlyphs" stroke="#000" stroke-width="0.2">4-h FVP (Fair Value Price)</text>
<text x="2278.0" y="651.6" font-size="29.8" fill="#2962ff" textLength="127.5" lengthAdjust="spacingAndGlyphs" stroke="#2962ff" stroke-width="0.2">20-period</text>
<text x="2278.0" y="680.8" font-size="29.8" fill="#2962ff" textLength="206.0" lengthAdjust="spacingAndGlyphs" stroke="#2962ff" stroke-width="0.2">Moving average</text>
<text x="2119.6" y="847.6" font-size="29.8" fill="#f23645" textLength="127.0" lengthAdjust="spacingAndGlyphs" stroke="#f23645" stroke-width="0.2">50-period</text>
<text x="2119.6" y="877.3" font-size="29.8" fill="#f23645" textLength="205.5" lengthAdjust="spacingAndGlyphs" stroke="#f23645" stroke-width="0.2">Moving average</text>
<text x="2954.2" y="1481.0" font-size="29.8" fill="#000" textLength="198.6" lengthAdjust="spacingAndGlyphs" xml:space="preserve" stroke="#000" stroke-width="0.2">RSI -  Above 50</text>
<text x="2953.2" y="1698.8" font-size="29.8" fill="#000" textLength="254.7" lengthAdjust="spacingAndGlyphs" stroke="#000" stroke-width="0.2">MACD - Above Zero</text>
<line x1="16.00" y1="1390.40" x2="3364.50" y2="1390.40" stroke="#b4b7c3" stroke-width="1.3"/>
<line x1="16.00" y1="1557.70" x2="3364.50" y2="1557.70" stroke="#b4b7c3" stroke-width="1.3"/>
<line x1="16.00" y1="1608.50" x2="3364.50" y2="1608.50" stroke="#b4b7c3" stroke-width="1.3"/>
<line x1="3239.70" y1="41.00" x2="3239.70" y2="1839.00" stroke="#000" stroke-width="1.1"/>
<line x1="16.00" y1="1785.30" x2="3364.50" y2="1785.30" stroke="#000" stroke-width="1.0"/>
<text x="27.3" y="69.8" font-size="18.5" fill="#000" textLength="168.4" lengthAdjust="spacingAndGlyphs" stroke="#000" stroke-width="0.25">BTCUSD, 4h, KRAKEN</text>
<text x="207.5" y="69.8" font-size="18.5" fill="#000" textLength="80.7" lengthAdjust="spacingAndGlyphs" stroke="#000" stroke-width="0.25">O68,217.2</text>
<text x="300.0" y="69.8" font-size="18.5" fill="#000" textLength="80.7" lengthAdjust="spacingAndGlyphs" stroke="#000" stroke-width="0.25">H68,217.8</text>
<text x="392.9" y="69.8" font-size="18.5" fill="#000" textLength="77.6" lengthAdjust="spacingAndGlyphs" stroke="#000" stroke-width="0.25">L68,062.2</text>
<text x="482.3" y="69.8" font-size="18.5" fill="#000" textLength="79.8" lengthAdjust="spacingAndGlyphs" stroke="#000" stroke-width="0.25">C68,170.8</text>
<text x="574.5" y="69.8" font-size="18.5" fill="#000" textLength="116.5" lengthAdjust="spacingAndGlyphs" stroke="#000" stroke-width="0.25">−43.8 (−0.06%)</text>
<text x="27.3" y="95.4" font-size="18.5" fill="#000" textLength="209.7" lengthAdjust="spacingAndGlyphs" stroke="#000" stroke-width="0.25">EMA (40, close, 0, SMA, 5)</text>
<text x="27.3" y="121.0" font-size="18.5" fill="#000" textLength="209.7" lengthAdjust="spacingAndGlyphs" stroke="#000" stroke-width="0.25">EMA (10, close, 0, SMA, 5)</text>
<text x="27.3" y="147.3" font-size="18.5" fill="#000" textLength="209.7" lengthAdjust="spacingAndGlyphs" stroke="#000" stroke-width="0.25">EMA (20, close, 0, SMA, 5)</text>
<text x="248.4" y="147.3" font-size="18.5" fill="#2962ff" textLength="68.4" lengthAdjust="spacingAndGlyphs" stroke="#2962ff" stroke-width="0.25">67,686.1</text>
<text x="27.3" y="173.1" font-size="18.5" fill="#000" textLength="122.4" lengthAdjust="spacingAndGlyphs" stroke="#000" stroke-width="0.25">EMA (50, close)</text>
<text x="161.5" y="173.1" font-size="18.5" fill="#f23645" textLength="69.2" lengthAdjust="spacingAndGlyphs" stroke="#f23645" stroke-width="0.25">66,161.5</text>
<text x="27.4" y="1420.0" font-size="18.5" fill="#000" textLength="113.5" lengthAdjust="spacingAndGlyphs" stroke="#000" stroke-width="0.25">RSI (14, close)</text>
<text x="152.9" y="1420.0" font-size="18.5" fill="#7e57c2" textLength="43.4" lengthAdjust="spacingAndGlyphs" stroke="#7e57c2" stroke-width="0.25">60.83</text>
<text x="207.7" y="1420.0" font-size="18.5" fill="#ffe838" textLength="44.3" lengthAdjust="spacingAndGlyphs" stroke="#ffe838" stroke-width="0.25">63.66</text>
<text x="263.9" y="1419.6" font-size="16.5" fill="#000" textLength="10.5" lengthAdjust="spacingAndGlyphs">∅</text>
<text x="286.6" y="1419.6" font-size="16.5" fill="#000" textLength="10.5" lengthAdjust="spacingAndGlyphs">∅</text>
<text x="309.3" y="1419.6" font-size="16.5" fill="#000" textLength="10.5" lengthAdjust="spacingAndGlyphs">∅</text>
<text x="332.0" y="1419.6" font-size="16.5" fill="#000" textLength="10.5" lengthAdjust="spacingAndGlyphs">∅</text>
<text x="354.7" y="1419.6" font-size="16.5" fill="#000" textLength="10.5" lengthAdjust="spacingAndGlyphs">∅</text>
<text x="377.4" y="1419.6" font-size="16.5" fill="#000" textLength="10.5" lengthAdjust="spacingAndGlyphs">∅</text>
<text x="27.4" y="1587.0" font-size="18.5" fill="#000" textLength="123.5" lengthAdjust="spacingAndGlyphs" stroke="#000" stroke-width="0.25">Stoch (14, 1, 3)</text>
<text x="162.6" y="1587.0" font-size="18.5" fill="#2962ff" textLength="44.1" lengthAdjust="spacingAndGlyphs" stroke="#2962ff" stroke-width="0.25">65.34</text>
<text x="218.0" y="1587.0" font-size="18.5" fill="#ff6d00" textLength="43.7" lengthAdjust="spacingAndGlyphs" stroke="#ff6d00" stroke-width="0.25">64.62</text>
<text x="27.4" y="1637.7" font-size="18.5" fill="#000" textLength="165.6" lengthAdjust="spacingAndGlyphs" stroke="#000" stroke-width="0.25">MACD (12, 26, close)</text>
<text x="204.6" y="1637.7" font-size="18.5" fill="#ff5252" textLength="53.1" lengthAdjust="spacingAndGlyphs" stroke="#ff5252" stroke-width="0.25">−117.7</text>
<text x="269.8" y="1637.7" font-size="18.5" fill="#2962ff" textLength="43.4" lengthAdjust="spacingAndGlyphs" stroke="#2962ff" stroke-width="0.25">702.7</text>
<text x="324.5" y="1637.7" font-size="18.5" fill="#ff6d00" textLength="44.4" lengthAdjust="spacingAndGlyphs" stroke="#ff6d00" stroke-width="0.25">820.4</text>
<text x="3255.2" y="112.5" font-size="24.6" fill="#000" textLength="93.0" lengthAdjust="spacingAndGlyphs" stroke="#000" stroke-width="0.4">72,000.0</text>
<text x="3255.2" y="209.0" font-size="24.6" fill="#000" textLength="93.0" lengthAdjust="spacingAndGlyphs" stroke="#000" stroke-width="0.4">71,000.0</text>
<text x="3255.2" y="305.5" font-size="24.6" fill="#000" textLength="93.0" lengthAdjust="spacingAndGlyphs" stroke="#000" stroke-width="0.4">70,000.0</text>
<text x="3255.2" y="594.8" font-size="24.6" fill="#000" textLength="93.0" lengthAdjust="spacingAndGlyphs" stroke="#000" stroke-width="0.4">67,000.0</text>
<text x="3255.2" y="691.3" font-size="24.6" fill="#000" textLength="93.0" lengthAdjust="spacingAndGlyphs" stroke="#000" stroke-width="0.4">66,000.0</text>
<text x="3255.2" y="787.8" font-size="24.6" fill="#000" textLength="93.0" lengthAdjust="spacingAndGlyphs" stroke="#000" stroke-width="0.4">65,000.0</text>
<text x="3255.2" y="884.2" font-size="24.6" fill="#000" textLength="93.0" lengthAdjust="spacingAndGlyphs" stroke="#000" stroke-width="0.4">64,000.0</text>
<text x="3255.2" y="980.7" font-size="24.6" fill="#000" textLength="93.0" lengthAdjust="spacingAndGlyphs" stroke="#000" stroke-width="0.4">63,000.0</text>
<text x="3255.2" y="1077.1" font-size="24.6" fill="#000" textLength="93.0" lengthAdjust="spacingAndGlyphs" stroke="#000" stroke-width="0.4">62,000.0</text>
<text x="3255.2" y="1173.6" font-size="24.6" fill="#000" textLength="93.0" lengthAdjust="spacingAndGlyphs" stroke="#000" stroke-width="0.4">61,000.0</text>
<text x="3255.2" y="1270.1" font-size="24.6" fill="#000" textLength="93.0" lengthAdjust="spacingAndGlyphs" stroke="#000" stroke-width="0.4">60,000.0</text>
<text x="3255.2" y="1366.5" font-size="24.6" fill="#000" textLength="93.0" lengthAdjust="spacingAndGlyphs" stroke="#000" stroke-width="0.4">59,000.0</text>
<rect x="3244.4" y="46.6" width="114.8" height="38.4" rx="5" fill="#fff" stroke="#e0e3eb" stroke-width="1.3"/>
<text x="3260.0" y="73.7" font-size="23" fill="#131722" textLength="40.0" lengthAdjust="spacingAndGlyphs" stroke="#131722" stroke-width="0.3">USD</text>
<path d="M3239.0,100.3 H3355.9 Q3358.9,100.3 3358.9,103.3 V131.6 Q3358.9,134.6 3355.9,134.6 H3239.0 Z" fill="#f23645"/>
<text x="3255.2" y="124.4" font-size="24.6" fill="#fff" textLength="93.0" lengthAdjust="spacingAndGlyphs" stroke="#fff" stroke-width="0.4">71,900.0</text>
<path d="M3239.0,381.4 H3355.9 Q3358.9,381.4 3358.9,384.4 V412.7 Q3358.9,415.7 3355.9,415.7 H3239.0 Z" fill="#f23645"/>
<text x="3255.2" y="405.2" font-size="24.6" fill="#fff" textLength="93.0" lengthAdjust="spacingAndGlyphs" stroke="#fff" stroke-width="0.4">68,980.3</text>
<path d="M3239.0,458.8 H3355.9 Q3358.9,458.8 3358.9,461.8 V518.7 Q3358.9,521.7 3355.9,521.7 H3239.0 Z" fill="#000"/>
<text x="3255.2" y="482.7" font-size="24.6" fill="#fff" textLength="93.0" lengthAdjust="spacingAndGlyphs" stroke="#fff" stroke-width="0.4">68,170.8</text>
<text x="3255.2" y="511.0" font-size="24.6" fill="#bdbdbd" textLength="58.0" lengthAdjust="spacingAndGlyphs" stroke="#bdbdbd" stroke-width="0.4">02:02</text>
<path d="M3239.0,521.8 H3355.9 Q3358.9,521.8 3358.9,524.8 V552.5 Q3358.9,555.5 3355.9,555.5 H3239.0 Z" fill="#2962ff"/>
<text x="3255.2" y="545.6" font-size="24.6" fill="#fff" textLength="93.0" lengthAdjust="spacingAndGlyphs" stroke="#fff" stroke-width="0.4">67,686.1</text>
<path d="M3239.0,606.2 H3355.9 Q3358.9,606.2 3358.9,609.2 V637.6 Q3358.9,640.6 3355.9,640.6 H3239.0 Z" fill="#089981"/>
<text x="3255.2" y="630.1" font-size="24.6" fill="#fff" textLength="93.0" lengthAdjust="spacingAndGlyphs" stroke="#fff" stroke-width="0.4">66,644.5</text>
<path d="M3239.0,653.4 H3355.9 Q3358.9,653.4 3358.9,656.4 V684.8 Q3358.9,687.8 3355.9,687.8 H3239.0 Z" fill="#f23645"/>
<text x="3255.2" y="677.3" font-size="24.6" fill="#fff" textLength="93.0" lengthAdjust="spacingAndGlyphs" stroke="#fff" stroke-width="0.4">66,161.5</text>
<path d="M3239.0,794.8 H3355.9 Q3358.9,794.8 3358.9,797.8 V826.1 Q3358.9,829.1 3355.9,829.1 H3239.0 Z" fill="#089981"/>
<text x="3255.2" y="818.7" font-size="24.6" fill="#fff" textLength="93.0" lengthAdjust="spacingAndGlyphs" stroke="#fff" stroke-width="0.4">64,686.1</text>
<path d="M3239.0,1009.4 H3355.9 Q3358.9,1009.4 3358.9,1012.4 V1040.8 Q3358.9,1043.8 3355.9,1043.8 H3239.0 Z" fill="#089981"/>
<text x="3255.2" y="1033.3" font-size="24.6" fill="#fff" textLength="93.0" lengthAdjust="spacingAndGlyphs" stroke="#fff" stroke-width="0.4">62,465.0</text>
<g clip-path="url(#rsiax)">
<text x="3255.2" y="1394.1" font-size="24.6" fill="#000" textLength="57.0" lengthAdjust="spacingAndGlyphs" stroke="#000" stroke-width="0.4">69.11</text>
</g>
<path d="M3239.0,1403.0 H3320.9 Q3323.9,1403.0 3323.9,1406.0 V1433.8 Q3323.9,1436.8 3320.9,1436.8 H3239.0 Z" fill="#ffeb3b"/>
<text x="3255.2" y="1427.5" font-size="24.6" fill="#000" textLength="57.0" lengthAdjust="spacingAndGlyphs" stroke="#000" stroke-width="0.4">63.66</text>
<path d="M3239.0,1436.4 H3320.9 Q3323.9,1436.4 3323.9,1439.4 V1467.0 Q3323.9,1470.0 3320.9,1470.0 H3239.0 Z" fill="#7e57c2"/>
<text x="3255.2" y="1461.0" font-size="24.6" fill="#fff" textLength="57.0" lengthAdjust="spacingAndGlyphs" stroke="#fff" stroke-width="0.4">60.83</text>
<text x="3255.2" y="1495.4" font-size="24.6" fill="#000" textLength="57.0" lengthAdjust="spacingAndGlyphs" stroke="#000" stroke-width="0.4">57.66</text>
<text x="3255.2" y="1653.0" font-size="24.6" fill="#000" textLength="79.5" lengthAdjust="spacingAndGlyphs" stroke="#000" stroke-width="0.4">1,000.0</text>
<text x="3255.2" y="1733.3" font-size="24.6" fill="#000" textLength="33.0" lengthAdjust="spacingAndGlyphs" stroke="#000" stroke-width="0.4">0.0</text>
<path d="M3239.0,1620.0 H3321.1 Q3324.1,1620.0 3324.1,1623.0 V1651.7 Q3324.1,1654.7 3321.1,1654.7 H3239.0 Z" fill="#ff6d00"/>
<text x="3255.2" y="1644.0" font-size="24.6" fill="#fff" textLength="57.0" lengthAdjust="spacingAndGlyphs" stroke="#fff" stroke-width="0.4">820.4</text>
<path d="M3239.0,1654.3 H3321.1 Q3324.1,1654.3 3324.1,1657.3 V1685.9 Q3324.1,1688.9 3321.1,1688.9 H3239.0 Z" fill="#2962ff"/>
<text x="3255.2" y="1678.3" font-size="24.6" fill="#fff" textLength="57.0" lengthAdjust="spacingAndGlyphs" stroke="#fff" stroke-width="0.4">702.7</text>
<path d="M3239.0,1718.2 H3332.8 Q3335.8,1718.2 3335.8,1721.2 V1749.8 Q3335.8,1752.8 3332.8,1752.8 H3239.0 Z" fill="#ff5252"/>
<text x="3255.2" y="1742.2" font-size="24.6" fill="#fff" textLength="69.0" lengthAdjust="spacingAndGlyphs" stroke="#fff" stroke-width="0.4">−117.7</text>
<line x1="3239.70" y1="41.00" x2="3239.70" y2="1839.00" stroke="#000" stroke-width="1.1"/>
<text x="167.9" y="1819.0" font-size="24.6" fill="#000" text-anchor="middle" textLength="12.2" lengthAdjust="spacingAndGlyphs" stroke="#000" stroke-width="0.1">8</text>
<text x="406.0" y="1819.0" font-size="24.6" fill="#000" text-anchor="middle" textLength="12.2" lengthAdjust="spacingAndGlyphs" stroke="#000" stroke-width="0.1">9</text>
<text x="645.3" y="1819.0" font-size="24.6" fill="#000" text-anchor="middle" textLength="24.2" lengthAdjust="spacingAndGlyphs" stroke="#000" stroke-width="0.1">10</text>
<text x="882.5" y="1819.0" font-size="24.6" fill="#000" text-anchor="middle" textLength="24.2" lengthAdjust="spacingAndGlyphs" stroke="#000" stroke-width="0.1">11</text>
<text x="1121.5" y="1819.0" font-size="24.6" fill="#000" text-anchor="middle" textLength="24.2" lengthAdjust="spacingAndGlyphs" stroke="#000" stroke-width="0.1">12</text>
<text x="1359.9" y="1819.0" font-size="24.6" fill="#000" text-anchor="middle" textLength="24.2" lengthAdjust="spacingAndGlyphs" stroke="#000" stroke-width="0.1">13</text>
<text x="1598.6" y="1819.0" font-size="24.6" fill="#000" text-anchor="middle" textLength="24.2" lengthAdjust="spacingAndGlyphs" stroke="#000" stroke-width="0.8">14</text>
<text x="1836.4" y="1819.0" font-size="24.6" fill="#000" text-anchor="middle" textLength="24.2" lengthAdjust="spacingAndGlyphs" stroke="#000" stroke-width="0.1">15</text>
<text x="2074.4" y="1819.0" font-size="24.6" fill="#000" text-anchor="middle" textLength="24.2" lengthAdjust="spacingAndGlyphs" stroke="#000" stroke-width="0.1">16</text>
<text x="2312.8" y="1819.0" font-size="24.6" fill="#000" text-anchor="middle" textLength="24.2" lengthAdjust="spacingAndGlyphs" stroke="#000" stroke-width="0.1">17</text>
<text x="2551.2" y="1819.0" font-size="24.6" fill="#000" text-anchor="middle" textLength="24.2" lengthAdjust="spacingAndGlyphs" stroke="#000" stroke-width="0.1">18</text>
<text x="2788.9" y="1819.0" font-size="24.6" fill="#000" text-anchor="middle" textLength="24.2" lengthAdjust="spacingAndGlyphs" stroke="#000" stroke-width="0.1">19</text>
<text x="3027.0" y="1819.0" font-size="24.6" fill="#000" text-anchor="middle" textLength="24.2" lengthAdjust="spacingAndGlyphs" stroke="#000" stroke-width="0.1">20</text>
<g fill="#131722">
<path d="M15.1,1857.3 H26.7 V1872 H20.7 V1862.9 H15.1 Z"/>
<circle cx="31.8" cy="1860.4" r="3.05"/>
<path d="M37.8,1857.3 H44.4 L38.7,1872 H32.1 Z"/>
</g>
<text x="50.0" y="1872.4" font-size="18.4" fill="#131722" textLength="105.0" lengthAdjust="spacingAndGlyphs">TradingView</text>
</svg>
</body></html>
